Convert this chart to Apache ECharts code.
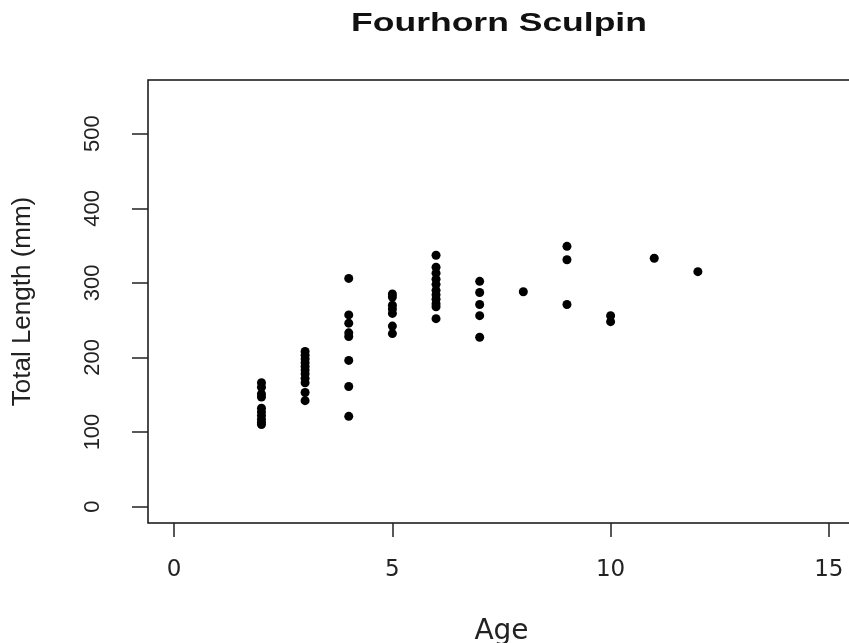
<!DOCTYPE html>
<html>
<head>
<meta charset="utf-8">
<script src="https://cdn.jsdelivr.net/npm/echarts@6/dist/echarts.min.js"></script>
<style>
  html, body { margin: 0; padding: 0; background: #fff; }
  #chart { width: 849px; height: 643px; }
</style>
</head>
<body>
<div id="chart"></div>
<script>
// Fourhorn sculpin: total length (mm) by age (years)
const ages = [
  2, 2, 2, 2, 2, 2, 2, 2, 2, 2,
  3, 3, 3, 3, 3, 3, 3, 3, 3, 3, 3,
  4, 4, 4, 4, 4, 4, 4, 4,
  5, 5, 5, 5, 5, 5, 5,
  6, 6, 6, 6, 6, 6, 6, 6, 6, 6, 6,
  7, 7, 7, 7, 7,
  8,
  9, 9, 9,
  10, 10,
  11,
  12
];
const totalLengths = [
  166, 160, 151, 147, 132, 127, 122, 117, 113, 110,
  208, 203, 198, 193, 188, 183, 178, 172, 166, 153, 142,
  306, 257, 246, 233, 228, 196, 161, 121,
  285, 281, 270, 265, 259, 242, 232,
  337, 321, 313, 305, 298, 290, 284, 278, 272, 268, 252,
  302, 287, 271, 256, 227,
  288,
  349, 331, 271,
  256, 248,
  333,
  315
];
const xTicks = [0, 5, 10, 15];
const yTicks = [0, 100, 200, 300, 400, 500];

const points = ages.map((a, i) => [a, totalLengths[i]]);

const chart = echarts.init(document.getElementById('chart'), null, { renderer: 'canvas' });
chart.setOption({
  animation: false,
  backgroundColor: '#ffffff',
  graphic: [{
    type: 'text',
    x: 499,
    y: 24,
    scaleX: 1.42,
    originX: 0,
    style: {
      text: 'Fourhorn Sculpin',
      font: 'bold 25px "Liberation Sans", Arial, sans-serif',
      fill: '#111',
      textAlign: 'center',
      textVerticalAlign: 'middle'
    }
  }],
  grid: {
    left: 148,
    top: 80,
    width: 707,
    height: 443,
    containLabel: false,
    outerBoundsMode: 'none',
    show: true,
    borderColor: '#111',
    borderWidth: 1.5,
    backgroundColor: 'transparent'
  },
  xAxis: {
    type: 'value',
    min: -0.6,
    max: 15.6,
    name: 'Age',
    nameLocation: 'middle',
    nameGap: 95,
    nameTextStyle: { fontFamily: 'DejaVu Sans', fontSize: 28, color: '#222' },
    axisLine: { show: false, onZero: false },
    splitLine: { show: false },
    axisTick: { show: true, inside: false, customValues: xTicks, length: 14, lineStyle: { color: '#222', width: 1.5 } },
    axisLabel: { customValues: xTicks, margin: 36, fontFamily: 'DejaVu Sans', fontSize: 23, color: '#222' }
  },
  yAxis: {
    type: 'value',
    min: -22,
    max: 572,
    name: 'Total Length (mm)',
    nameLocation: 'middle',
    nameRotate: 90,
    nameGap: 112,
    nameTextStyle: { fontFamily: 'Liberation Sans', fontSize: 26, color: '#222' },
    axisLine: { show: false, onZero: false },
    splitLine: { show: false },
    axisTick: { show: true, inside: false, customValues: yTicks, length: 16, lineStyle: { color: '#222', width: 1.5 } },
    axisLabel: { customValues: yTicks, rotate: 90, margin: 44, fontFamily: 'Liberation Sans', fontSize: 22, color: '#222' }
  },
  series: [{
    type: 'scatter',
    data: points,
    symbol: 'circle',
    symbolSize: 9,
    itemStyle: { color: '#000', opacity: 1 }
  }]
});
</script>
</body>
</html>
